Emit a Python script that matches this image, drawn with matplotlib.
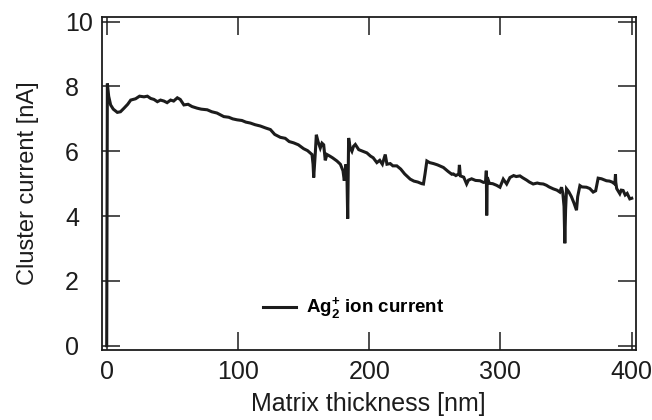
import matplotlib
matplotlib.use("Agg")
import matplotlib.pyplot as plt

plt.rcParams['font.family'] = ['Liberation Sans', 'DejaVu Sans']
plt.rcParams['mathtext.fontset'] = 'custom'
plt.rcParams['mathtext.rm'] = 'Liberation Sans'
plt.rcParams['mathtext.bf'] = 'Liberation Sans:bold'

thickness_nm = [0.0, 0.5, 1.5, 3, 5, 8.1, 10.5, 13.2, 16, 18.3, 22, 25, 28.4, 31, 33.5, 36, 38.6, 41, 43.6, 46,
                48.7, 51, 53.8, 56, 58.8, 62, 65, 68.9, 72, 76.6, 80, 84, 89.2, 93, 96, 99.4, 103, 106,
                109.5, 113, 117, 121, 124.7, 128, 132.3, 136, 139, 142.4, 146, 150, 153, 156.4, 157.2, 157.7,
                159.0, 159.7, 161, 162.7, 164, 165.3, 166.5, 167.8, 170, 172, 175.4, 178, 180, 181, 182.3, 183,
                183.6, 184.3, 185.5, 186.8, 188, 189.4, 192, 195, 198.2, 201, 203, 205.8, 208, 210, 212.2,
                213.5, 216, 218, 221, 224, 227, 231.2, 234, 237, 240, 241.3, 242.5, 243.9, 246, 249, 252,
                256.5, 260, 262.9, 264.1, 266, 268.2, 268.7, 269.4, 272, 274.2, 275.6, 278, 281, 284.4, 287,
                288.7, 289.2, 289.5, 289.9, 291.5, 294, 297, 299.6, 302.1, 304.7, 307.2, 310, 312, 314.8,
                317, 319.9, 322, 324.9, 328, 330, 332.6, 335, 337, 340.2, 343, 345.2, 346.5, 347.5, 348.4,
                349, 349.6, 350.3, 352, 354, 356, 357.9, 358.8, 360.5, 362, 365.5, 368, 370.6, 372.5, 374.4,
                377, 380.7, 383, 385, 387.1, 387.6, 387.8, 388.5, 390.9, 392, 393.4, 395, 396.5, 398.5, 400]
current_nA = [0.0, 8.09, 7.7, 7.43, 7.3, 7.2, 7.22, 7.33, 7.45, 7.58, 7.62, 7.7, 7.68, 7.7, 7.63, 7.6, 7.53, 7.58, 7.55, 7.5,
              7.58, 7.55, 7.65, 7.6, 7.43, 7.45, 7.38, 7.33, 7.3, 7.28, 7.22, 7.18, 7.07, 7.05, 7.0, 6.97, 6.95, 6.9,
              6.87, 6.82, 6.78, 6.72, 6.67, 6.52, 6.43, 6.4, 6.3, 6.26, 6.2, 6.08, 6.02, 5.9, 5.6, 5.19,
              6.0, 6.51, 6.3, 6.1, 6.25, 6.2, 5.72, 5.9, 5.85, 5.8, 5.7, 5.6, 5.4, 5.09, 5.6, 5.3,
              3.92, 6.41, 6.1, 6.0, 6.15, 6.21, 6.05, 6.0, 5.95, 5.85, 5.8, 5.65, 5.72, 5.6, 5.9,
              5.6, 5.62, 5.55, 5.55, 5.45, 5.3, 5.14, 5.08, 5.05, 5.0, 4.99, 5.3, 5.7, 5.65, 5.62, 5.58,
              5.5, 5.38, 5.29, 5.3, 5.25, 5.3, 5.58, 5.24, 5.2, 4.99, 5.11, 5.15, 5.1, 5.09, 5.04,
              5.05, 5.4, 4.02, 5.2, 5.01, 5.0, 4.95, 4.89, 5.14, 4.99, 5.19, 5.25, 5.22, 5.24,
              5.18, 5.11, 5.05, 4.99, 5.02, 5.0, 4.99, 4.95, 4.9, 4.84, 4.8, 4.74, 4.89, 4.7, 4.3,
              3.16, 4.2, 4.84, 4.75, 4.6, 4.4, 4.18, 4.6, 4.94, 4.9, 4.89, 4.85, 4.74, 4.78, 5.17,
              5.15, 5.09, 5.08, 5.05, 4.99, 5.29, 5.05, 4.85, 4.69, 4.8, 4.79, 4.65, 4.7, 4.53, 4.55]

legend_label = r'Ag$_\mathbf{2}^\mathbf{+}$ ion current'
xticks = [0, 100, 200, 300, 400]
yticks = [0, 2, 4, 6, 8, 10]

ink = '#1c1c1c'
fig = plt.figure(figsize=(6.52, 4.2), dpi=100)
ax = fig.add_axes([0.156, 0.1667, 0.819, 0.7936])
ax.plot(thickness_nm, current_nA, color=ink, lw=2.2, solid_joinstyle='miter', label=legend_label)
ax.set_xlim(-3.8, 403.0)
ax.set_ylim(-0.133, 10.154)
ax.set_xticks(xticks)
ax.set_yticks(yticks)
ax.tick_params(direction='in', length=13, width=1.1, top=True, right=True, labelsize=18, colors=ink)
ax.tick_params(axis='y', pad=26.5)
ax.tick_params(axis='x', pad=7)
for lab in ax.get_yticklabels():
    lab.set_horizontalalignment('left')
for s in ax.spines.values():
    s.set_linewidth(1.3)
    s.set_color(ink)
ax.set_xlabel('Matrix thickness [nm]', fontsize=18, color=ink, labelpad=6)
ax.set_ylabel('Cluster current [nA]', fontsize=17, color=ink, labelpad=19)
leg = ax.legend(loc='center left', bbox_to_anchor=(0.302, 0.123), frameon=False,
                prop={'weight': 'bold', 'size': 13.5}, handlelength=1.75, handletextpad=0.55,
                borderpad=0, borderaxespad=0)
fig.savefig('out.png', dpi=100)
